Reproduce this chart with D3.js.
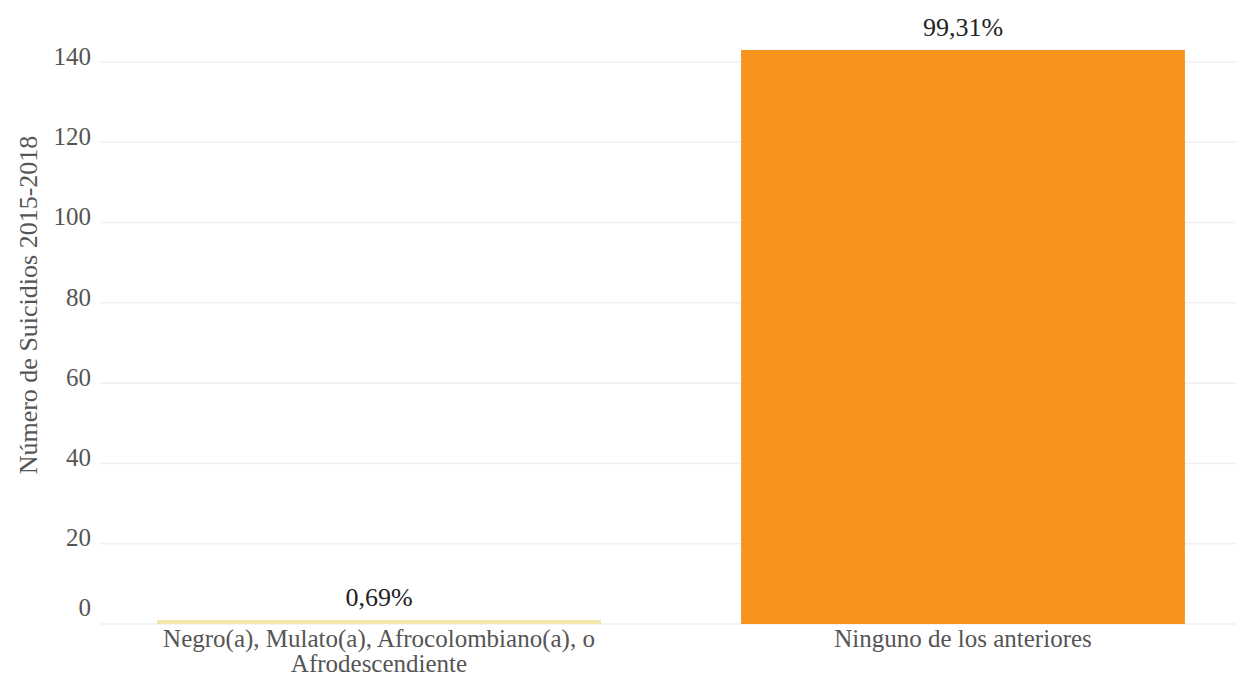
<!DOCTYPE html>
<html><head><meta charset="utf-8">
<script src="https://cdn.jsdelivr.net/npm/d3@7"></script>
<style>body{margin:0;background:#fff;}svg{display:block;} text{font-family:'Liberation Serif';}</style>
</head><body><svg id="c" width="1241" height="677"></svg>
<script>
const categories = ["Negro(a), Mulato(a), Afrocolombiano(a), o|Afrodescendiente", "Ninguno de los anteriores"];
const values = [1, 143];
const pctLabels = ["0,69%", "99,31%"];
const barColors = ["#f3e6ab", "#f7941d"];
const yTicks = [0, 20, 40, 60, 80, 100, 120, 140];
const yTitle = "Número de Suicidios 2015-2018";

const FONT = "'Liberation Serif'";
const svg = d3.select("#c");
const x = d3.scaleBand().domain(categories).range([87, 1255]).paddingInner(0.24).paddingOuter(0.12);
const y = d3.scaleLinear().domain([0, 140]).range([624, 62]);

// gridlines
svg.append("g").selectAll("line").data(yTicks).join("line")
  .attr("x1", 100).attr("x2", 1236)
  .attr("y1", d => y(d)).attr("y2", d => y(d))
  .attr("stroke", "#f0f0f0").attr("stroke-width", 1.5);

// y tick labels
svg.append("g").selectAll("text").data(yTicks).join("text")
  .style("font-family", FONT)
  .attr("x", 91).attr("y", d => y(d) - (d === 0 ? 14 : 3))
  .attr("text-anchor", "end").attr("dominant-baseline", "middle")
  .attr("font-size", 25).attr("fill", "#555").text(d => d);

// y title
svg.append("text").attr("transform", "translate(31,305) rotate(-90)")
  .style("font-family", FONT)
  .attr("text-anchor", "middle").attr("dominant-baseline", "middle")
  .attr("font-size", 26).attr("fill", "#555").text(yTitle);

// bars
svg.append("g").selectAll("rect").data(values).join("rect")
  .attr("x", (d, i) => x(categories[i])).attr("width", x.bandwidth())
  .attr("y", d => y(d)).attr("height", d => y(0) - y(d))
  .attr("fill", (d, i) => barColors[i]);

// value labels
svg.append("g").selectAll("text").data(values).join("text")
  .style("font-family", FONT)
  .attr("x", (d, i) => x(categories[i]) + x.bandwidth() / 2)
  .attr("y", d => y(d) - 20)
  .attr("text-anchor", "middle").attr("dominant-baseline", "middle")
  .attr("font-size", 26).attr("fill", "#222").text((d, i) => pctLabels[i]);

// category labels (one text element per line)
categories.forEach(c => {
  c.split("|").forEach((line, j) => {
    svg.append("text").attr("x", x(c) + x.bandwidth() / 2).attr("y", 647 + j * 25)
      .style("font-family", FONT)
      .attr("text-anchor", "middle").attr("font-size", 25).attr("fill", "#555").text(line);
  });
});
</script></body></html>
